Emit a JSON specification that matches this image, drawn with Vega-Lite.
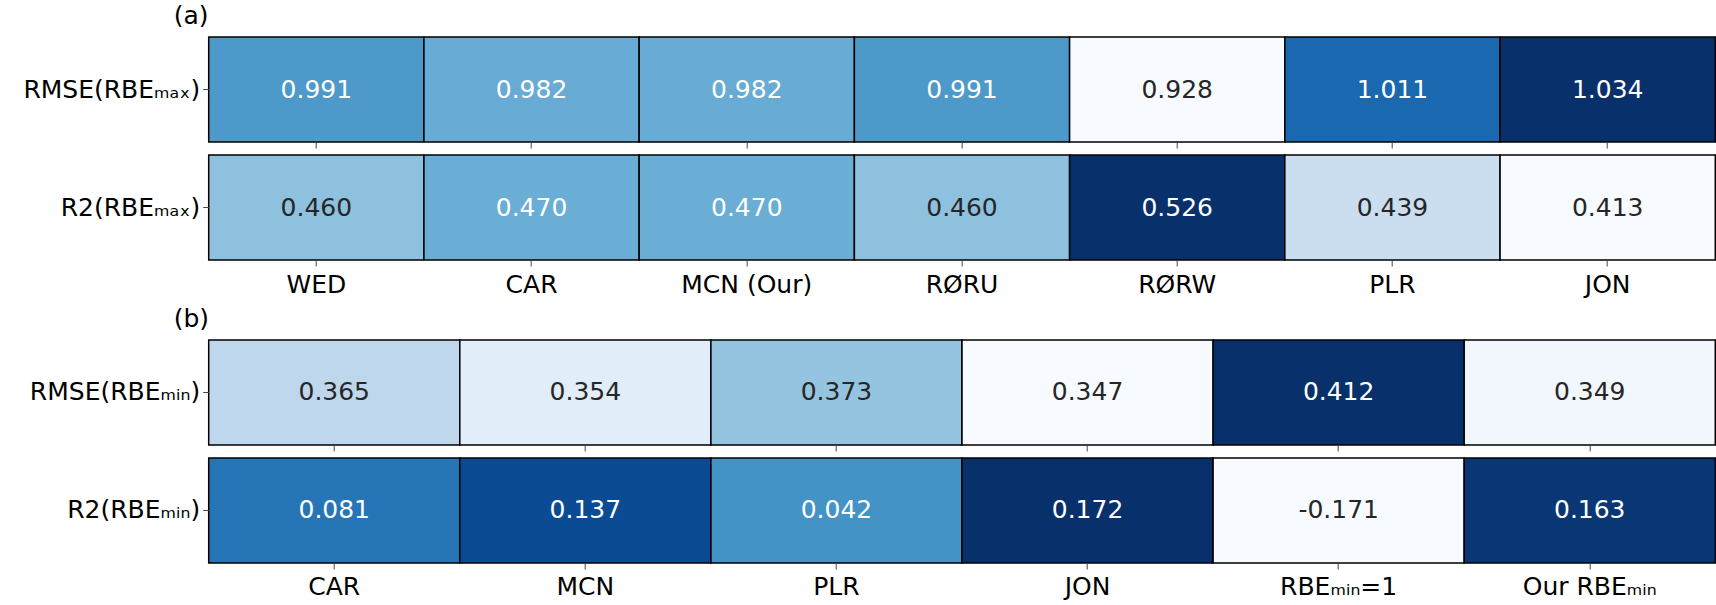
{
  "$schema": "https://vega.github.io/schema/vega-lite/v6.json",
  "padding": {"left": 22.7, "top": 4, "right": 0, "bottom": 0},
  "config": {
    "font": "DejaVu Sans",
    "view": {"stroke": null},
    "concat": {"spacing": 5},
    "locale": {"number": {"decimal": ".", "thousands": ",", "grouping": [3], "currency": ["$", ""], "minus": "-"}},
    "axis": {
      "domain": false,
      "ticks": true,
      "tickSize": 6,
      "tickColor": "#444444",
      "tickWidth": 1,
      "labelFontSize": 25,
      "labelColor": "#000000",
      "labelFont": "DejaVu Sans",
      "labelLimit": 500,
      "title": null
    },
    "axisX": {"labelAngle": 0, "labelPadding": 6},
    "axisY": {"labelPadding": 3},
    "title": {"fontSize": 25, "fontWeight": "normal", "font": "DejaVu Sans", "color": "#000000", "anchor": "start", "frame": "group", "dx": -35, "offset": 7}
  },
  "datasets": {
    "r1": [
      {"metric": "RMSE(RBEₘₐₓ)", "model": "WED", "value": 0.991},
      {"metric": "RMSE(RBEₘₐₓ)", "model": "CAR", "value": 0.982},
      {"metric": "RMSE(RBEₘₐₓ)", "model": "MCN (Our)", "value": 0.982},
      {"metric": "RMSE(RBEₘₐₓ)", "model": "RØRU", "value": 0.991},
      {"metric": "RMSE(RBEₘₐₓ)", "model": "RØRW", "value": 0.928},
      {"metric": "RMSE(RBEₘₐₓ)", "model": "PLR", "value": 1.011},
      {"metric": "RMSE(RBEₘₐₓ)", "model": "JON", "value": 1.034}
    ],
    "r2": [
      {"metric": "R2(RBEₘₐₓ)", "model": "WED", "value": 0.460},
      {"metric": "R2(RBEₘₐₓ)", "model": "CAR", "value": 0.470},
      {"metric": "R2(RBEₘₐₓ)", "model": "MCN (Our)", "value": 0.470},
      {"metric": "R2(RBEₘₐₓ)", "model": "RØRU", "value": 0.460},
      {"metric": "R2(RBEₘₐₓ)", "model": "RØRW", "value": 0.526},
      {"metric": "R2(RBEₘₐₓ)", "model": "PLR", "value": 0.439},
      {"metric": "R2(RBEₘₐₓ)", "model": "JON", "value": 0.413}
    ],
    "r3": [
      {"metric": "RMSE(RBEₘᵢₙ)", "model": "CAR", "value": 0.365},
      {"metric": "RMSE(RBEₘᵢₙ)", "model": "MCN", "value": 0.354},
      {"metric": "RMSE(RBEₘᵢₙ)", "model": "PLR", "value": 0.373},
      {"metric": "RMSE(RBEₘᵢₙ)", "model": "JON", "value": 0.347},
      {"metric": "RMSE(RBEₘᵢₙ)", "model": "RBEₘᵢₙ=1", "value": 0.412},
      {"metric": "RMSE(RBEₘᵢₙ)", "model": "Our RBEₘᵢₙ", "value": 0.349}
    ],
    "r4": [
      {"metric": "R2(RBEₘᵢₙ)", "model": "CAR", "value": 0.081},
      {"metric": "R2(RBEₘᵢₙ)", "model": "MCN", "value": 0.137},
      {"metric": "R2(RBEₘᵢₙ)", "model": "PLR", "value": 0.042},
      {"metric": "R2(RBEₘᵢₙ)", "model": "JON", "value": 0.172},
      {"metric": "R2(RBEₘᵢₙ)", "model": "RBEₘᵢₙ=1", "value": -0.171},
      {"metric": "R2(RBEₘᵢₙ)", "model": "Our RBEₘᵢₙ", "value": 0.163}
    ]
  },
  "vconcat": [
    {
      "title": {"text": "(a)"},
      "data": {"name": "r1"},
      "width": 1506.6,
      "height": 105,
      "encoding": {
        "x": {"field": "model", "type": "nominal", "sort": null, "axis": {"labels": false}},
        "y": {"field": "metric", "type": "nominal"}
      },
      "resolve": {"scale": {"color": "independent"}},
      "layer": [
        {
          "mark": {"type": "rect", "stroke": "#000000", "strokeWidth": 1.5},
          "encoding": {"color": {"field": "value", "type": "quantitative", "legend": null,
            "scale": {"domain": [0.928, 0.94125, 0.9545, 0.96775, 0.981, 0.99425, 1.0075, 1.02075, 1.034],
                      "range": ["#f7fbff", "#deebf7", "#c6dbef", "#9ecae1", "#6baed6", "#4292c6", "#2171b5", "#08519c", "#08306b"]}}}
        },
        {
          "mark": {"type": "text", "fontSize": 25},
          "encoding": {
            "text": {"field": "value", "type": "quantitative", "format": ".3f"},
            "color": {"field": "value", "type": "quantitative", "legend": null,
              "scale": {"type": "threshold", "domain": [0.95], "range": ["#262626", "#ffffff"]}}
          }
        }
      ]
    },
    {
      "data": {"name": "r2"},
      "width": 1506.6,
      "height": 105,
      "encoding": {
        "x": {"field": "model", "type": "nominal", "sort": null, "axis": {"title": " ", "titleFontSize": 2, "titlePadding": 2.6}},
        "y": {"field": "metric", "type": "nominal"}
      },
      "resolve": {"scale": {"color": "independent"}},
      "layer": [
        {
          "mark": {"type": "rect", "stroke": "#000000", "strokeWidth": 1.5},
          "encoding": {"color": {"field": "value", "type": "quantitative", "legend": null,
            "scale": {"domain": [0.413, 0.427125, 0.44125, 0.455375, 0.4695, 0.483625, 0.49775, 0.511875, 0.526],
                      "range": ["#f7fbff", "#deebf7", "#c6dbef", "#9ecae1", "#6baed6", "#4292c6", "#2171b5", "#08519c", "#08306b"]}}}
        },
        {
          "mark": {"type": "text", "fontSize": 25},
          "encoding": {
            "text": {"field": "value", "type": "quantitative", "format": ".3f"},
            "color": {"field": "value", "type": "quantitative", "legend": null,
              "scale": {"type": "threshold", "domain": [0.465], "range": ["#262626", "#ffffff"]}}
          }
        }
      ]
    },
    {
      "title": {"text": "(b)"},
      "data": {"name": "r3"},
      "width": 1506.6,
      "height": 105,
      "encoding": {
        "x": {"field": "model", "type": "nominal", "sort": null, "axis": {"labels": false}},
        "y": {"field": "metric", "type": "nominal"}
      },
      "resolve": {"scale": {"color": "independent"}},
      "layer": [
        {
          "mark": {"type": "rect", "stroke": "#000000", "strokeWidth": 1.5},
          "encoding": {"color": {"field": "value", "type": "quantitative", "legend": null,
            "scale": {"domain": [0.347, 0.355125, 0.36325, 0.371375, 0.3795, 0.387625, 0.39575, 0.403875, 0.412],
                      "range": ["#f7fbff", "#deebf7", "#c6dbef", "#9ecae1", "#6baed6", "#4292c6", "#2171b5", "#08519c", "#08306b"]}}}
        },
        {
          "mark": {"type": "text", "fontSize": 25},
          "encoding": {
            "text": {"field": "value", "type": "quantitative", "format": ".3f"},
            "color": {"field": "value", "type": "quantitative", "legend": null,
              "scale": {"type": "threshold", "domain": [0.39], "range": ["#262626", "#ffffff"]}}
          }
        }
      ]
    },
    {
      "data": {"name": "r4"},
      "width": 1506.6,
      "height": 105,
      "encoding": {
        "x": {"field": "model", "type": "nominal", "sort": null},
        "y": {"field": "metric", "type": "nominal"}
      },
      "resolve": {"scale": {"color": "independent"}},
      "layer": [
        {
          "mark": {"type": "rect", "stroke": "#000000", "strokeWidth": 1.5},
          "encoding": {"color": {"field": "value", "type": "quantitative", "legend": null,
            "scale": {"domain": [-0.171, -0.128125, -0.08525, -0.042375, 0.0005, 0.043375, 0.08625, 0.129125, 0.172],
                      "range": ["#f7fbff", "#deebf7", "#c6dbef", "#9ecae1", "#6baed6", "#4292c6", "#2171b5", "#08519c", "#08306b"]}}}
        },
        {
          "mark": {"type": "text", "fontSize": 25},
          "encoding": {
            "text": {"field": "value", "type": "quantitative", "format": ".3f"},
            "color": {"field": "value", "type": "quantitative", "legend": null,
              "scale": {"type": "threshold", "domain": [0], "range": ["#262626", "#ffffff"]}}
          }
        }
      ]
    }
  ]
}
